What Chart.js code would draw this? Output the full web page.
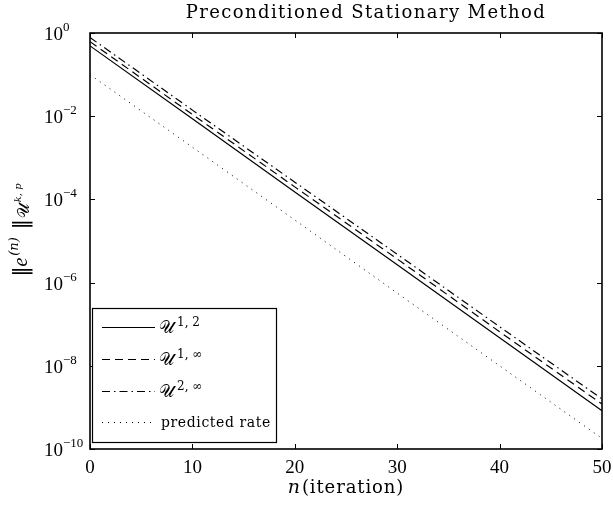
<!DOCTYPE html>
<html>
<head>
<meta charset="utf-8">
<script src="https://cdn.jsdelivr.net/npm/chart.js@4"></script>
<style>
  html, body { margin: 0; padding: 0; background: #fff; }
  #wrap { width: 613px; height: 506px; position: relative; }
</style>
</head>
<body>
<div id="wrap"><canvas id="myChart"></canvas></div>
<script>
// values (log scale, straight lines)
const iterations = [0, 10, 20, 30, 40, 50];
const errU12 = [4.9e-1, 8.7e-3, 1.5e-4, 2.7e-6, 4.7e-8, 8.3e-10];
const errU1inf = [6.2e-1, 1.1e-2, 2.0e-4, 3.7e-6, 6.6e-8, 1.2e-9];
const errU2inf = [7.8e-1, 1.4e-2, 2.6e-4, 4.8e-6, 8.7e-8, 1.6e-9];
const predictedRate = [1.0e-1, 1.8e-3, 3.2e-5, 5.6e-7, 1.0e-8, 1.8e-10];
const xTicks = [0, 10, 20, 30, 40, 50];
const yTickExps = [0, -2, -4, -6, -8, -10];
const legendSups = ['1, 2', '1, \u221e', '2, \u221e'];

const SERIF = '"DejaVu Serif", serif';
const TIMES = '"Liberation Serif", serif';

function pts(vals) {
  return iterations.map((n, i) => ({ x: n, y: vals[i] }));
}

// draw a list of text pieces one after another, returns the width
function runs(ctx, parts, x, y, measureOnly) {
  let w = 0;
  parts.forEach((p) => {
    ctx.font = p.font;
    if (!measureOnly) ctx.fillText(p.text, x + w, y + (p.dy || 0));
    w += ctx.measureText(p.text).width + (p.gap || 0);
  });
  return w;
}

const frameAndText = {
  id: 'frameAndText',
  afterDatasetsDraw(chart) {
    const ctx = chart.ctx;
    const a = chart.chartArea;
    const xs = chart.scales.x;
    const ys = chart.scales.y;
    ctx.save();
    ctx.fillStyle = '#000';
    ctx.strokeStyle = '#000';

    // inward ticks
    ctx.lineWidth = 1;
    ctx.beginPath();
    xTicks.forEach((t) => {
      const px = Math.round(xs.getPixelForValue(t)) + 0.5;
      ctx.moveTo(px, a.bottom); ctx.lineTo(px, a.bottom - 5);
      ctx.moveTo(px, a.top); ctx.lineTo(px, a.top + 5);
    });
    yTickExps.forEach((e) => {
      const py = Math.round(ys.getPixelForValue(Math.pow(10, e))) + 0.5;
      ctx.moveTo(a.left, py); ctx.lineTo(a.left + 5, py);
      ctx.moveTo(a.right, py); ctx.lineTo(a.right - 5, py);
    });
    ctx.stroke();

    // frame
    ctx.lineWidth = 1.6;
    ctx.strokeRect(a.left, a.top, a.right - a.left, a.bottom - a.top);

    // x tick labels
    ctx.textBaseline = 'alphabetic';
    ctx.textAlign = 'center';
    ctx.font = '19px ' + TIMES;
    xTicks.forEach((t) => {
      ctx.fillText(String(t), xs.getPixelForValue(t), 473);
    });

    // y tick labels 10^e
    yTickExps.forEach((e) => {
      const py = ys.getPixelForValue(Math.pow(10, e));
      ctx.textAlign = 'right';
      ctx.font = '19px ' + TIMES;
      ctx.fillText('10', 63, py + 7);
      ctx.textAlign = 'left';
      ctx.font = '13px ' + TIMES;
      ctx.fillText(e === 0 ? '0' : '\u2212' + Math.abs(e), 63, py - 2);
    });

    // title
    ctx.textAlign = 'left';
    const title = [{ text: 'Preconditioned Stationary Method', font: '18px ' + SERIF }];
    ctx.letterSpacing = '1.4px';
    const tw = runs(ctx, title, 0, 0, true);
    runs(ctx, title, 366 - tw / 2, 18);

    // x axis label
    ctx.letterSpacing = '0.9px';
    const xl = [
      { text: 'n', font: 'italic 19px ' + SERIF, gap: 1 },
      { text: '(iteration)', font: '18px ' + SERIF }
    ];
    const xw = runs(ctx, xl, 0, 0, true);
    runs(ctx, xl, 346 - xw / 2, 493);
    ctx.letterSpacing = '0px';

    // y axis label, rotated
    const yl = [
      { text: '\u2016', font: '20px ' + SERIF },
      { text: 'e', font: 'italic 20px ' + TIMES, gap: 2 },
      { text: '(n)', font: 'italic 13px ' + SERIF, dy: -9, gap: 8 },
      { text: '\u2016', font: '20px ' + SERIF, gap: 1 },
      { text: '\uD835\uDCB0', font: '16px ' + SERIF, dy: 2, gap: 2 },
      { text: 'k, p', font: 'italic 10px ' + SERIF, dy: -6 }
    ];
    ctx.save();
    ctx.translate(27, 230);
    ctx.rotate(-Math.PI / 2);
    const yw = runs(ctx, yl, 0, 0, true);
    runs(ctx, yl, -yw / 2, 0);
    ctx.restore();

    // legend box
    const lx = 92, ly = 308, lw = 184, lh = 134;
    ctx.fillStyle = '#fff';
    ctx.fillRect(lx, ly, lw, lh);
    ctx.lineWidth = 1.2;
    ctx.strokeRect(lx + 0.5, ly + 0.5, lw, lh);
    ctx.fillStyle = '#000';
    const rowY = [327, 359, 391, 422];
    chart.data.datasets.forEach((ds, i) => {
      const y = rowY[i];
      ctx.beginPath();
      ctx.lineWidth = ds.borderWidth;
      ctx.setLineDash(ds.borderDash || []);
      ctx.moveTo(102, y + 0.5);
      ctx.lineTo(155, y + 0.5);
      ctx.stroke();
      ctx.setLineDash([]);
      if (i < 3) {
        runs(ctx, [
          { text: '\uD835\uDCB0', font: '17px ' + SERIF, gap: 3 },
          { text: legendSups[i], font: '12px ' + SERIF, dy: -7 }
        ], 159, y + 6);
      } else {
        ctx.letterSpacing = '0.6px';
        runs(ctx, [{ text: ds.label, font: '14px ' + SERIF }], 161, y + 5);
        ctx.letterSpacing = '0px';
      }
    });

    ctx.restore();
  }
};

const ctx = document.getElementById('myChart').getContext('2d');
const myChart = new Chart(ctx, {
  type: 'line',
  data: {
    datasets: [
      { label: 'U1,2', data: pts(errU12), borderColor: '#000', borderWidth: 1.2, borderDash: [] },
      { label: 'U1,inf', data: pts(errU1inf), borderColor: '#000', borderWidth: 1.2, borderDash: [8, 5] },
      { label: 'U2,inf', data: pts(errU2inf), borderColor: '#000', borderWidth: 1.2, borderDash: [8, 4, 1.5, 4] },
      { label: 'predicted rate', data: pts(predictedRate), borderColor: '#000', borderWidth: 1, borderDash: [1, 5] }
    ]
  },
  options: {
    responsive: true,
    maintainAspectRatio: false,
    animation: false,
    layout: { padding: { left: 90, right: 11, top: 33, bottom: 57 } },
    elements: { point: { radius: 0 }, line: { tension: 0 } },
    plugins: { legend: { display: false }, tooltip: { enabled: false }, title: { display: false } },
    scales: {
      x: { type: 'linear', min: 0, max: 50, display: false },
      y: { type: 'logarithmic', min: 1e-10, max: 1, display: false }
    }
  },
  plugins: [frameAndText]
});
</script>
</body>
</html>
